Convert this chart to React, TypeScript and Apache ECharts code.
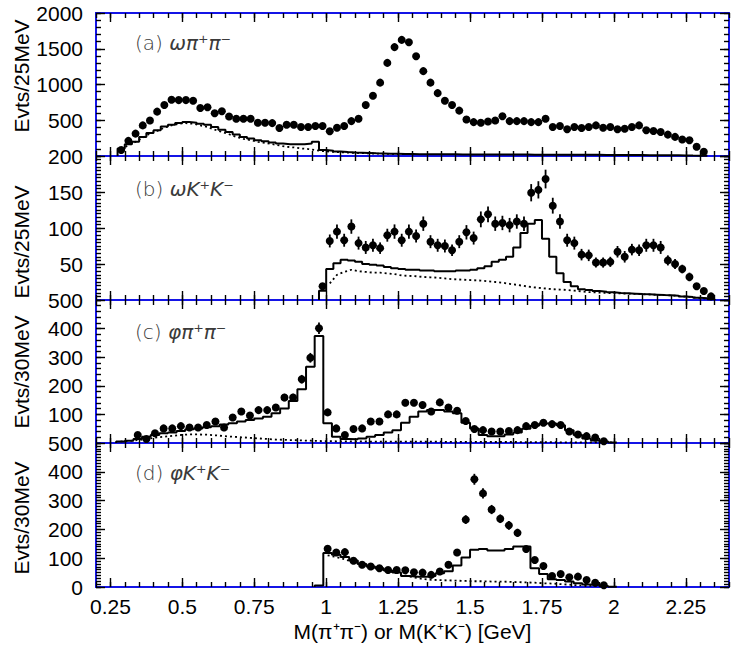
import React, { useEffect, useRef } from "react";
import * as echarts from "echarts";

// ---------------- data ----------------
const X_MIN = 0.2;
const X_MAX = 2.4;
const X_MAJOR_TICKS = [0.25, 0.5, 0.75, 1, 1.25, 1.5, 1.75, 2, 2.25];
const X_TITLE = "M(π⁺π⁻) or M(K⁺K⁻) [GeV]";
const Y_TITLES = ["Evts/25MeV", "Evts/25MeV", "Evts/30MeV", "Evts/30MeV"];
const PANEL_LABELS = [
  ["(a) ", "ωπ⁺π⁻"],
  ["(b) ", "ωK⁺K⁻"],
  ["(c) ", "φπ⁺π⁻"],
  ["(d) ", "φK⁺K⁻"],
];

// (a) omega pi+ pi-  : 25 MeV bins
const A_BIN = 0.025;
const A_FIRST = 0.2875;
const aData = [
  83, 212, 313, 428, 497, 621, 713, 787, 782, 782,
  773, 672, 681, 598, 626, 552, 520, 520, 520, 465,
  465, 460, 391, 437, 437, 405, 405, 419, 419, 345,
  396, 419, 488, 520, 713, 842, 1026, 1302, 1523, 1624,
  1592, 1394, 1187, 1026, 879, 773, 713, 635, 511, 474,
  465, 483, 497, 557, 488, 488, 488, 474, 474, 520,
  405, 419, 373, 405, 391, 405, 428, 396, 405, 373,
  382, 405, 428, 359, 350, 336, 299, 267, 230, 221,
  129, 60,
];
const aHist = [
  106, 166, 198, 267, 322, 359, 414, 437, 460, 474,
  465, 451, 437, 405, 368, 336, 299, 267, 244, 221,
  207, 189, 175, 166, 166, 166, 175, 198, 83, 74,
  62, 55, 50, 46, 42, 38, 35, 32, 30, 28,
  27, 26, 25, 24, 24, 23, 23, 22, 22, 22,
  21, 21, 21, 20, 20, 20, 20, 19, 19, 19,
  18, 18, 18, 17, 17, 16, 16, 15, 15, 14,
  14, 13, 13, 12, 12, 11, 10, 9, 8, 6,
  5, 3,
];
const aDotted = [
  92, 152, 198, 258, 313, 350, 396, 428, 451, 460,
  451, 428, 405, 368, 336, 304, 267, 239, 221, 198,
  184, 166, 147, 129, 120, 106, 97, 83, 69, 60,
  55, 50, 46, 42, 38, 35, 32, 30, 28, 26,
  25, 24,
];

// (b) omega K+ K-  : 25 MeV bins
const B_BIN = 0.025;
const B_FIRST = 0.9875;
const bData = [
  19, 82, 95, 83, 102, 79, 73, 76, 72, 90,
  95, 83, 95, 89, 106, 81, 76, 75, 69, 81,
  94, 86, 112, 119, 106, 107, 104, 109, 106, 149,
  153, 168, 131, 109, 83, 79, 63, 62, 52, 52,
  53, 67, 60, 70, 69, 76, 76, 73, 55, 50,
  43, 32, 19, 12.5, 5,
];
const bErr = [
  4, 9, 10, 9, 10, 9, 9, 9, 8, 9,
  10, 9, 10, 9, 10, 9, 9, 9, 8, 9,
  10, 9, 11, 11, 10, 10, 10, 10, 10, 12,
  12, 13, 11, 10, 9, 9, 8, 8, 7, 7,
  7, 8, 8, 8, 8, 9, 9, 9, 7, 7,
  6, 6, 4, 3, 2,
];
const bHist = [
  13, 43, 51, 56, 55, 53, 50, 49, 48, 46,
  44, 43, 42, 42, 41, 41, 40, 40, 40, 41,
  41, 42, 44, 47, 53, 56, 60, 73, 93, 106,
  111, 85, 60, 37, 25, 19, 15, 14, 12.5, 11.6,
  10.6, 9.7, 9.3, 8.8, 8.3, 7.9, 7.4, 6.9, 6.5, 6,
  5, 4.2, 3.2, 2.3, 1,
];
const B_DOT_FIRST = 1.0125;
const bDotted = [
  23, 35, 39, 42, 40, 39, 38, 38, 37, 36,
  34, 33.5, 33, 32, 31.5, 31, 30, 29, 28.5, 28,
  27.5, 27, 26, 25, 24, 22.5, 21, 19.5, 18, 17,
  16, 15, 14.5, 14, 13, 12, 11, 10.5, 10, 9.5,
  9.3, 9, 8.6, 8.2, 7.8, 7.4, 7, 6.5, 6, 5,
  4.2, 3.3, 2.3, 1.2,
];

// (c) phi pi+ pi-  : 30 MeV bins
const C_BIN = 0.03;
const C_DATA_FIRST = 0.345;
const cData = [
  28, 14, 34, 51, 51, 59, 54, 54, 63, 75,
  54, 89, 110, 96, 115, 115, 124, 159, 159, 223,
  298, 401, 107, 51, 28, 49, 51, 75, 75, 100,
  100, 141, 141, 133, 110, 142, 124, 113, 77, 49,
  45, 40, 40, 42, 45, 59, 63, 71, 66, 63,
  40, 30, 24, 19, 6,
];
const cErr = [
  5, 4, 6, 7, 7, 8, 7, 7, 8, 9,
  7, 9, 10, 10, 11, 11, 11, 13, 13, 15,
  17, 20, 10, 7, 5, 7, 7, 9, 9, 10,
  10, 12, 12, 12, 10, 12, 11, 11, 9, 7,
  7, 6, 6, 6, 7, 8, 8, 8, 8, 8,
  6, 5, 5, 4, 2,
];
const C_HIST_FIRST = 0.285;
const cHist = [
  5, 8, 14, 22, 28, 34, 37, 42, 48, 51,
  55, 59, 65, 69, 75, 80, 86, 92, 104, 121,
  147, 188, 267, 374, 69, 22, 14, 13, 16, 22,
  28, 37, 45, 71, 92, 110, 115, 115, 110, 104,
  71, 51, 28, 24, 24, 30, 37, 50, 60, 68,
  68, 62, 45, 28, 16, 9, 5, 2,
];
const cDotted = [
  5, 7, 10, 14, 19, 22, 25, 28, 30, 30,
  29, 27, 24, 22, 20, 18, 16, 14, 12, 11,
  10, 9, 8, 7, 6.5, 6, 6, 5.5, 5.5, 5,
  5, 5, 5, 5, 4.5, 4.5, 4.5, 4.5, 4, 4,
  4, 4, 4, 3.5, 3.5, 3.5, 3.5, 3, 3, 3,
  3, 2.5, 2.5, 2.5, 2, 2, 2, 2,
];

// (d) phi K+ K-  : 30 MeV bins
const D_BIN = 0.03;
const D_DATA_FIRST = 1.005;
const dData = [
  133, 120, 121, 91, 77, 71, 65, 59, 59, 58,
  51, 50, 42, 54, 77, 120, 234, 374, 325, 269,
  237, 214, 188, 132, 94, 73, 38, 45, 34, 36,
  24, 15, 6,
];
const dErr = [
  12, 11, 11, 10, 9, 8, 8, 8, 8, 8,
  7, 7, 6, 7, 9, 11, 15, 19, 18, 16,
  15, 15, 14, 11, 10, 9, 6, 7, 6, 6,
  5, 4, 2,
];
const D_HIST_FIRST = 0.975;
const dHist = [
  5, 118, 112, 104, 92, 80, 71, 65, 57, 50,
  38, 36, 36, 38, 48, 55, 75, 102, 129, 132,
  127, 127, 132, 141, 141, 65, 45, 27, 24, 19,
  13, 9, 7, 3.5, 1,
];
const D_DOT_FIRST = 1.005;
const dDotted = [
  110, 104, 96, 86, 76, 68, 62, 55, 49, 40,
  33, 28, 25, 24, 23, 22, 21, 20, 20, 19,
  19, 18, 17, 16, 15, 13, 12, 10, 8, 6,
  5, 3, 2,
];

// ---------------- helpers ----------------
const centers = (first: number, width: number, n: number) =>
  Array.from({ length: n }, (_, i) => +(first + i * width).toFixed(4));

const pairs = (first: number, width: number, vals: number[]) => {
  const xs = centers(first, width, vals.length);
  return vals.map((v, i) => [xs[i], v]);
};

const triples = (first: number, width: number, vals: number[], errs: number[]) => {
  const xs = centers(first, width, vals.length);
  return vals.map((v, i) => [xs[i], v, errs[i]]);
};

// histogram outline built from bin centres: edges go up/down at bin boundaries
const stepOutline = (first: number, width: number, vals: number[]) => {
  const xs = centers(first, width, vals.length);
  const pts: number[][] = [];
  const lo0 = xs[0] - width / 2;
  pts.push([lo0, 0]);
  vals.forEach((v, i) => {
    pts.push([xs[i] - width / 2, v]);
    pts.push([xs[i] + width / 2, v]);
  });
  pts.push([xs[xs.length - 1] + width / 2, 0]);
  return pts;
};

const FONT = "'Liberation Sans', Arial, Helvetica, sans-serif";
const FRAME = "#1414e6";

const PANELS = [
  { top: 13, height: 143, yMax: 2000, yMajor: 500, yMinor: 100, showMin: false },
  { top: 156, height: 144, yMax: 200, yMajor: 50, yMinor: 5, showMin: false },
  { top: 300, height: 143, yMax: 500, yMajor: 100, yMinor: 20, showMin: false },
  { top: 443, height: 144, yMax: 500, yMajor: 100, yMinor: 10, showMin: true },
];
const GRID_LEFT = 96;
const GRID_WIDTH = 633;
const TITLE_Y = [76, 242, 372, 518];
const LABEL_Y = [43, 189, 332, 473];

const tickStyle = { color: "#000", width: 1.4 };

function buildOption() {
  const grid: any[] = [];
  const xAxis: any[] = [];
  const yAxis: any[] = [];
  const series: any[] = [];

  PANELS.forEach((p, g) => {
    grid.push({
      left: GRID_LEFT,
      width: GRID_WIDTH,
      top: p.top,
      height: p.height,
      show: true,
      borderColor: FRAME,
      borderWidth: 2,
      backgroundColor: "transparent",
    });
    const last = g === PANELS.length - 1;
    const xBase = {
      type: "value",
      gridIndex: g,
      min: X_MIN,
      max: X_MAX,
      splitLine: { show: false },
      axisLine: { show: false, onZero: false },
    };
    // bottom major
    xAxis.push({
      ...xBase,
      position: "bottom",
      axisTick: { show: true, inside: true, length: 9, lineStyle: tickStyle, customValues: X_MAJOR_TICKS },
      axisLabel: last
        ? {
            show: true,
            customValues: X_MAJOR_TICKS,
            margin: 9,
            fontSize: 21,
            fontFamily: FONT,
            color: "#000",
            formatter: (v: number) => String(v),
          }
        : { show: false },
      name: last ? X_TITLE : "",
      nameLocation: "middle",
      nameGap: 34,
      nameTextStyle: { fontSize: 21, fontFamily: FONT, color: "#000" },
    });
    // bottom minor
    xAxis.push({
      ...xBase,
      position: "bottom",
      interval: 0.05,
      axisTick: { show: true, inside: true, length: 5, lineStyle: tickStyle },
      axisLabel: { show: false },
    });
    // top major
    xAxis.push({
      ...xBase,
      position: "top",
      axisTick: { show: true, inside: true, length: 9, lineStyle: tickStyle, customValues: X_MAJOR_TICKS },
      axisLabel: { show: false },
    });
    // top minor
    xAxis.push({
      ...xBase,
      position: "top",
      interval: 0.05,
      axisTick: { show: true, inside: true, length: 5, lineStyle: tickStyle },
      axisLabel: { show: false },
    });

    const yBase = {
      type: "value",
      gridIndex: g,
      min: 0,
      max: p.yMax,
      splitLine: { show: false },
      axisLine: { show: false, onZero: false },
    };
    yAxis.push({
      ...yBase,
      position: "left",
      interval: p.yMajor,
      axisTick: { show: true, inside: true, length: 9, lineStyle: tickStyle },
      axisLabel: {
        show: true,
        margin: 13,
        fontSize: 21,
        fontFamily: FONT,
        color: "#000",
        showMinLabel: p.showMin,
        showMaxLabel: true,
        formatter: (v: number) => String(v),
      },
    });
    yAxis.push({
      ...yBase,
      position: "left",
      interval: p.yMinor,
      axisTick: { show: true, inside: true, length: 5, lineStyle: tickStyle },
      axisLabel: { show: false },
    });
    yAxis.push({
      ...yBase,
      position: "right",
      interval: p.yMajor,
      axisTick: { show: true, inside: true, length: 9, lineStyle: tickStyle },
      axisLabel: { show: false },
    });
    yAxis.push({
      ...yBase,
      position: "right",
      interval: p.yMinor,
      axisTick: { show: true, inside: true, length: 5, lineStyle: tickStyle },
      axisLabel: { show: false },
    });
  });

  const ax = (g: number) => ({ xAxisIndex: g * 4, yAxisIndex: g * 4 });

  const dotted = (g: number, data: number[][]) => ({
    type: "line",
    ...ax(g),
    data,
    symbol: "none",
    lineStyle: { color: "#000", width: 1.8, type: [2, 3] },
    z: 2,
  });
  const hist = (g: number, data: number[][]) => ({
    type: "line",
    ...ax(g),
    data,
    symbol: "none",
    lineStyle: { color: "#000", width: 2 },
    z: 3,
  });
  const points = (g: number, data: number[][]) => ({
    type: "scatter",
    ...ax(g),
    data: data.map((d) => [d[0], d[1]]),
    symbol: "circle",
    symbolSize: 8,
    itemStyle: { color: "#000", opacity: 1 },
    z: 5,
  });
  const errors = (g: number, data: number[][]) => ({
    type: "custom",
    ...ax(g),
    data,
    encode: { x: 0, y: 1 },
    z: 4,
    renderItem: (_params: any, api: any) => {
      const x = api.value(0);
      const y = api.value(1);
      const e = api.value(2);
      const p1 = api.coord([x, y - e]);
      const p2 = api.coord([x, y + e]);
      return {
        type: "line",
        shape: { x1: p1[0], y1: p1[1], x2: p2[0], y2: p2[1] },
        style: { stroke: "#000", lineWidth: 1.8 },
      };
    },
  });

  // (a)
  series.push(dotted(0, pairs(A_FIRST, A_BIN, aDotted)));
  series.push(hist(0, stepOutline(A_FIRST, A_BIN, aHist)));
  series.push(points(0, pairs(A_FIRST, A_BIN, aData)));
  // (b)
  series.push(dotted(1, pairs(B_DOT_FIRST, B_BIN, bDotted)));
  series.push(hist(1, stepOutline(B_FIRST, B_BIN, bHist)));
  series.push(errors(1, triples(B_FIRST, B_BIN, bData, bErr)));
  series.push(points(1, pairs(B_FIRST, B_BIN, bData)));
  // (c)
  series.push(dotted(2, pairs(C_HIST_FIRST, C_BIN, cDotted)));
  series.push(hist(2, stepOutline(C_HIST_FIRST, C_BIN, cHist)));
  series.push(errors(2, triples(C_DATA_FIRST, C_BIN, cData, cErr)));
  series.push(points(2, pairs(C_DATA_FIRST, C_BIN, cData)));
  // (d)
  series.push(dotted(3, pairs(D_DOT_FIRST, D_BIN, dDotted)));
  series.push(hist(3, stepOutline(D_HIST_FIRST, D_BIN, dHist)));
  series.push(errors(3, triples(D_DATA_FIRST, D_BIN, dData, dErr)));
  series.push(points(3, pairs(D_DATA_FIRST, D_BIN, dData)));

  const graphic: any[] = [];
  Y_TITLES.forEach((t, i) => {
    graphic.push({
      type: "text",
      x: 21,
      y: TITLE_Y[i],
      rotation: Math.PI / 2,
      style: {
        text: t,
        fontSize: 21,
        fontFamily: FONT,
        fill: "#000",
        align: "center",
        verticalAlign: "middle",
      },
    });
  });
  PANEL_LABELS.forEach((lab, i) => {
    graphic.push({
      type: "text",
      x: 135,
      y: LABEL_Y[i],
      style: {
        text: `{n|${lab[0]}}{g|${lab[1]}}`,
        verticalAlign: "middle",
        rich: {
          n: { fontSize: 20, fontFamily: "'DejaVu Sans', sans-serif", fontWeight: 200, fill: "#3a3a3a" },
          g: {
            fontSize: 20,
            fontFamily: "'DejaVu Sans', sans-serif",
            fontWeight: 200,
            fontStyle: "italic",
            fill: "#3a3a3a",
          },
        },
      },
    });
  });

  return {
    animation: false,
    backgroundColor: "#fff",
    grid,
    xAxis,
    yAxis,
    series,
    graphic,
  };
}

export default function App() {
  const ref = useRef<HTMLDivElement>(null);
  useEffect(() => {
    if (!ref.current) return;
    const chart = echarts.init(ref.current, undefined, { renderer: "svg" });
    chart.setOption(buildOption() as any);
    return () => chart.dispose();
  }, []);
  return (
    <div
      ref={ref}
      style={{ position: "absolute", left: 0, top: 0, width: 747, height: 657 }}
    />
  );
}
